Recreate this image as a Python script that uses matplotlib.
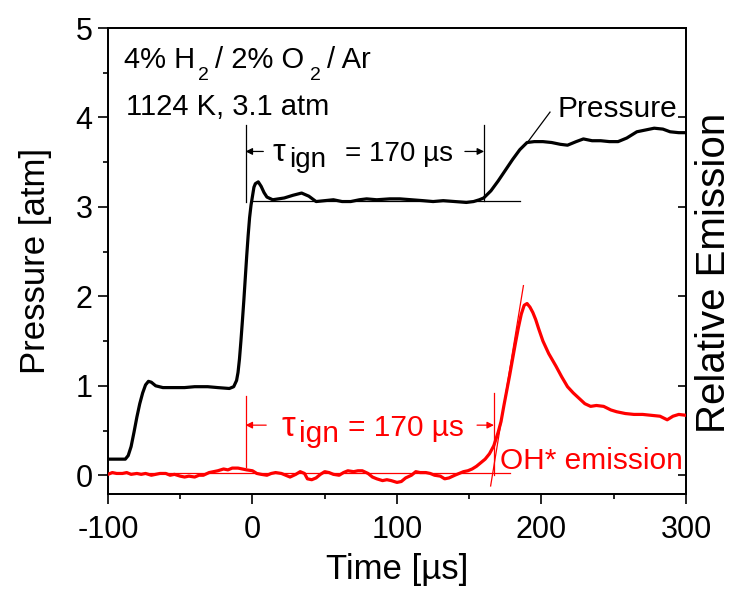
import matplotlib
matplotlib.use("Agg")
import matplotlib.pyplot as plt
from matplotlib.ticker import MultipleLocator

plt.rcParams["font.family"] = ["Liberation Sans", "DejaVu Sans"]
plt.rcParams["axes.unicode_minus"] = False

# pressure trace (time in us, pressure in atm)
P_TIME = [-100, -88, -86, -84, -82, -80, -78, -76, -74, -72, -70, -67, -62, -55, -47,
          -40, -31, -24, -16, -13, -11, -10, -9, -8, -7, -6, -5, -4, -3, -2, -1,
          0, 1, 2, 4, 6, 8, 10, 14, 22, 28, 34, 39, 44, 50, 56, 62, 68, 74, 79,
          86, 95, 102, 110, 118, 125, 132, 140, 148, 153, 157, 160, 165, 170, 175,
          180, 185, 190, 195, 201, 207, 213, 218, 224, 229, 235, 241, 247, 253,
          259, 266, 272, 278, 284, 289, 295, 300]
PRESSURE = [0.18, 0.18, 0.22, 0.32, 0.48, 0.65, 0.80, 0.92, 1.01, 1.05, 1.04, 1.00, 0.98,
            0.98, 0.98, 0.99, 0.99, 0.98, 0.97, 0.99, 1.06, 1.15, 1.30, 1.50, 1.72,
            1.95, 2.20, 2.45, 2.68, 2.88, 3.02, 3.12, 3.22, 3.26, 3.28, 3.23, 3.16,
            3.11, 3.08, 3.10, 3.13, 3.155, 3.12, 3.06, 3.07, 3.08, 3.06, 3.06, 3.08,
            3.09, 3.08, 3.09, 3.09, 3.08, 3.07, 3.06, 3.07, 3.06, 3.05, 3.06, 3.08,
            3.10, 3.18, 3.29, 3.41, 3.53, 3.64, 3.72, 3.73, 3.73, 3.72, 3.70, 3.69,
            3.73, 3.76, 3.74, 3.74, 3.73, 3.73, 3.77, 3.84, 3.86, 3.88, 3.87, 3.84,
            3.83, 3.83]

# OH* emission trace (scaled onto the same range)
E_TIME = [-100, -97, -94, -90, -87, -84, -80, -77, -74, -70, -67, -64, -60, -57, -54,
          -50, -47, -44, -40, -37, -34, -30, -27, -24, -20, -17, -14, -10, -7, -4,
          0, 3, 6, 10, 13, 16, 20, 23, 26, 30, 33, 36, 38, 41, 44, 47, 50, 53, 56,
          60, 63, 66, 70, 73, 76, 80, 83, 86, 90, 93, 96, 100, 103, 106, 110, 113,
          116, 120, 123, 126, 130, 133, 136, 140, 143, 146, 149, 152, 155, 158,
          161, 164, 167, 170, 172, 174, 176, 178, 180, 182, 184, 186, 188, 190,
          192, 194, 196, 198, 201, 205, 210, 214, 218, 222, 226, 230, 234, 238,
          243, 248, 252, 258, 264, 270, 276, 282, 287, 291, 295, 300]
EMISSION = [0.01, 0.03, 0.02, 0.02, 0.03, 0.01, 0.02, 0.01, 0.02, 0.00, 0.01, 0.02, 0.02,
            0.00, 0.01, -0.01, -0.02, -0.01, -0.02, 0.00, 0.00, 0.03, 0.04, 0.05, 0.07,
            0.06, 0.08, 0.08, 0.07, 0.06, 0.05, 0.02, 0.01, 0.00, 0.02, 0.03, 0.02,
            0.00, -0.02, 0.01, 0.04, 0.02, -0.04, -0.05, -0.03, 0.01, 0.04, 0.03,
            0.01, 0.00, 0.03, 0.05, 0.04, 0.05, 0.05, 0.02, -0.02, -0.04, -0.06,
            -0.05, -0.06, -0.08, -0.07, -0.03, 0.00, 0.04, 0.03, 0.03, 0.02, 0.00,
            -0.01, -0.04, -0.03, 0.00, 0.02, 0.04, 0.05, 0.07, 0.10, 0.14, 0.18,
            0.24, 0.33, 0.48, 0.60, 0.78, 0.95, 1.12, 1.30, 1.48, 1.65, 1.80, 1.90,
            1.92, 1.88, 1.82, 1.74, 1.64, 1.50, 1.36, 1.22, 1.10, 0.99, 0.92, 0.86,
            0.80, 0.77, 0.78, 0.77, 0.73, 0.71, 0.69, 0.68, 0.68, 0.67, 0.66, 0.62,
            0.66, 0.68, 0.67]

fig = plt.figure(figsize=(7.34, 5.95), dpi=100)
ax = fig.add_axes([0.1471, 0.1697, 0.7875, 0.7832])
ax2 = ax.twinx()

ax.plot(P_TIME, PRESSURE, color="black", lw=2.3, zorder=3)
ax2.plot(E_TIME, EMISSION, color="red", lw=2.3, zorder=3)

ax.set_xlim(-100, 300)
ax.set_ylim(-0.21, 5)
ax2.set_ylim(-0.21, 5)

# pressure ignition construction lines
ax.plot([-1, 185], [3.07, 3.07], color="black", lw=0.9)
ax.plot([-4.8, -4.8], [3.06, 3.92], color="black", lw=0.9)
ax.plot([160.3, 160.3], [3.07, 3.92], color="black", lw=0.9)
ax.plot([190.7, 205.9], [3.73, 4.06], color="black", lw=0.9)
arw = dict(arrowstyle="-|>", color="black", lw=0.9, mutation_scale=10, shrinkA=0, shrinkB=0)
ax.annotate("", xy=(-4.8, 3.62), xytext=(7.5, 3.62), arrowprops=arw)
ax.annotate("", xy=(160.3, 3.62), xytext=(147, 3.62), arrowprops=arw)
ax.text(14.2, 3.51, "\u03c4", fontsize=23, va="baseline")
ax.text(25.5, 3.45, "ign", fontsize=20, va="baseline")
ax.text(64, 3.51, "= 170 \u00b5s", fontsize=20, va="baseline")

# emission ignition construction lines
ax2.plot([-100, 178], [0.02, 0.02], color="red", lw=0.9)
ax2.plot([164.8, 187.5], [-0.12, 2.12], color="red", lw=0.9)
ax2.plot([-4.8, -4.8], [0.09, 0.885], color="red", lw=0.9)
ax2.plot([167.1, 167.1], [0.0, 0.92], color="red", lw=0.9)
arw_r = dict(arw, color="red")
ax2.annotate("", xy=(-4.8, 0.56), xytext=(9.5, 0.56), arrowprops=arw_r)
ax2.annotate("", xy=(167.1, 0.56), xytext=(155.4, 0.56), arrowprops=arw_r)
ax2.text(20.2, 0.44, "\u03c4", fontsize=25, color="red", va="baseline")
ax2.text(32.5, 0.37, "ign", fontsize=21.5, color="red", va="baseline")
ax2.text(66, 0.44, "= 170 \u00b5s", fontsize=21.5, color="red", va="baseline")

# mixture and conditions
ax.text(-89, 4.55, "4% H", fontsize=21, va="baseline")
ax.text(-37.5, 4.42, "2", fontsize=14, va="baseline")
ax.text(-26, 4.55, "/ 2% O", fontsize=21, va="baseline")
ax.text(39.8, 4.42, "2", fontsize=14, va="baseline")
ax.text(51.3, 4.55, "/ Ar", fontsize=21, va="baseline")
ax.text(-87.5, 4.03, "1124 K, 3.1 atm", fontsize=21, va="baseline")

ax.text(211.4, 4.0, "Pressure", fontsize=21.5, va="baseline")
ax2.text(171.3, 0.07, "OH* emission", fontsize=21.5, color="red", va="baseline")

ax.set_xlabel("Time [\u00b5s]", fontsize=25, labelpad=6)
ax.set_ylabel("Pressure [atm]", fontsize=25, labelpad=17)
fig.text(0.973, 0.541, "Relative Emission", fontsize=29, rotation=90,
         ha="center", va="center")

ax.xaxis.set_major_locator(MultipleLocator(100))
ax.xaxis.set_minor_locator(MultipleLocator(50))
ax.yaxis.set_major_locator(MultipleLocator(1))
ax.yaxis.set_minor_locator(MultipleLocator(0.5))
ax2.yaxis.set_major_locator(MultipleLocator(1))
ax2.yaxis.set_minor_locator(MultipleLocator(0.5))

ax.tick_params(which="both", direction="out", width=1.2, labelsize=22)
ax.tick_params(axis="x", pad=8)
ax.tick_params(axis="y", pad=4)
ax.tick_params(which="major", length=7)
ax.tick_params(which="minor", length=3.5)
ax.tick_params(axis="y", right=False)
ax2.tick_params(axis="y", which="major", direction="in", length=6, width=1.2, labelright=False)
ax2.tick_params(axis="y", which="minor", length=0)

for a in (ax, ax2):
    for s in a.spines.values():
        s.set_linewidth(1.3)

fig.savefig("out.png", dpi=100)
